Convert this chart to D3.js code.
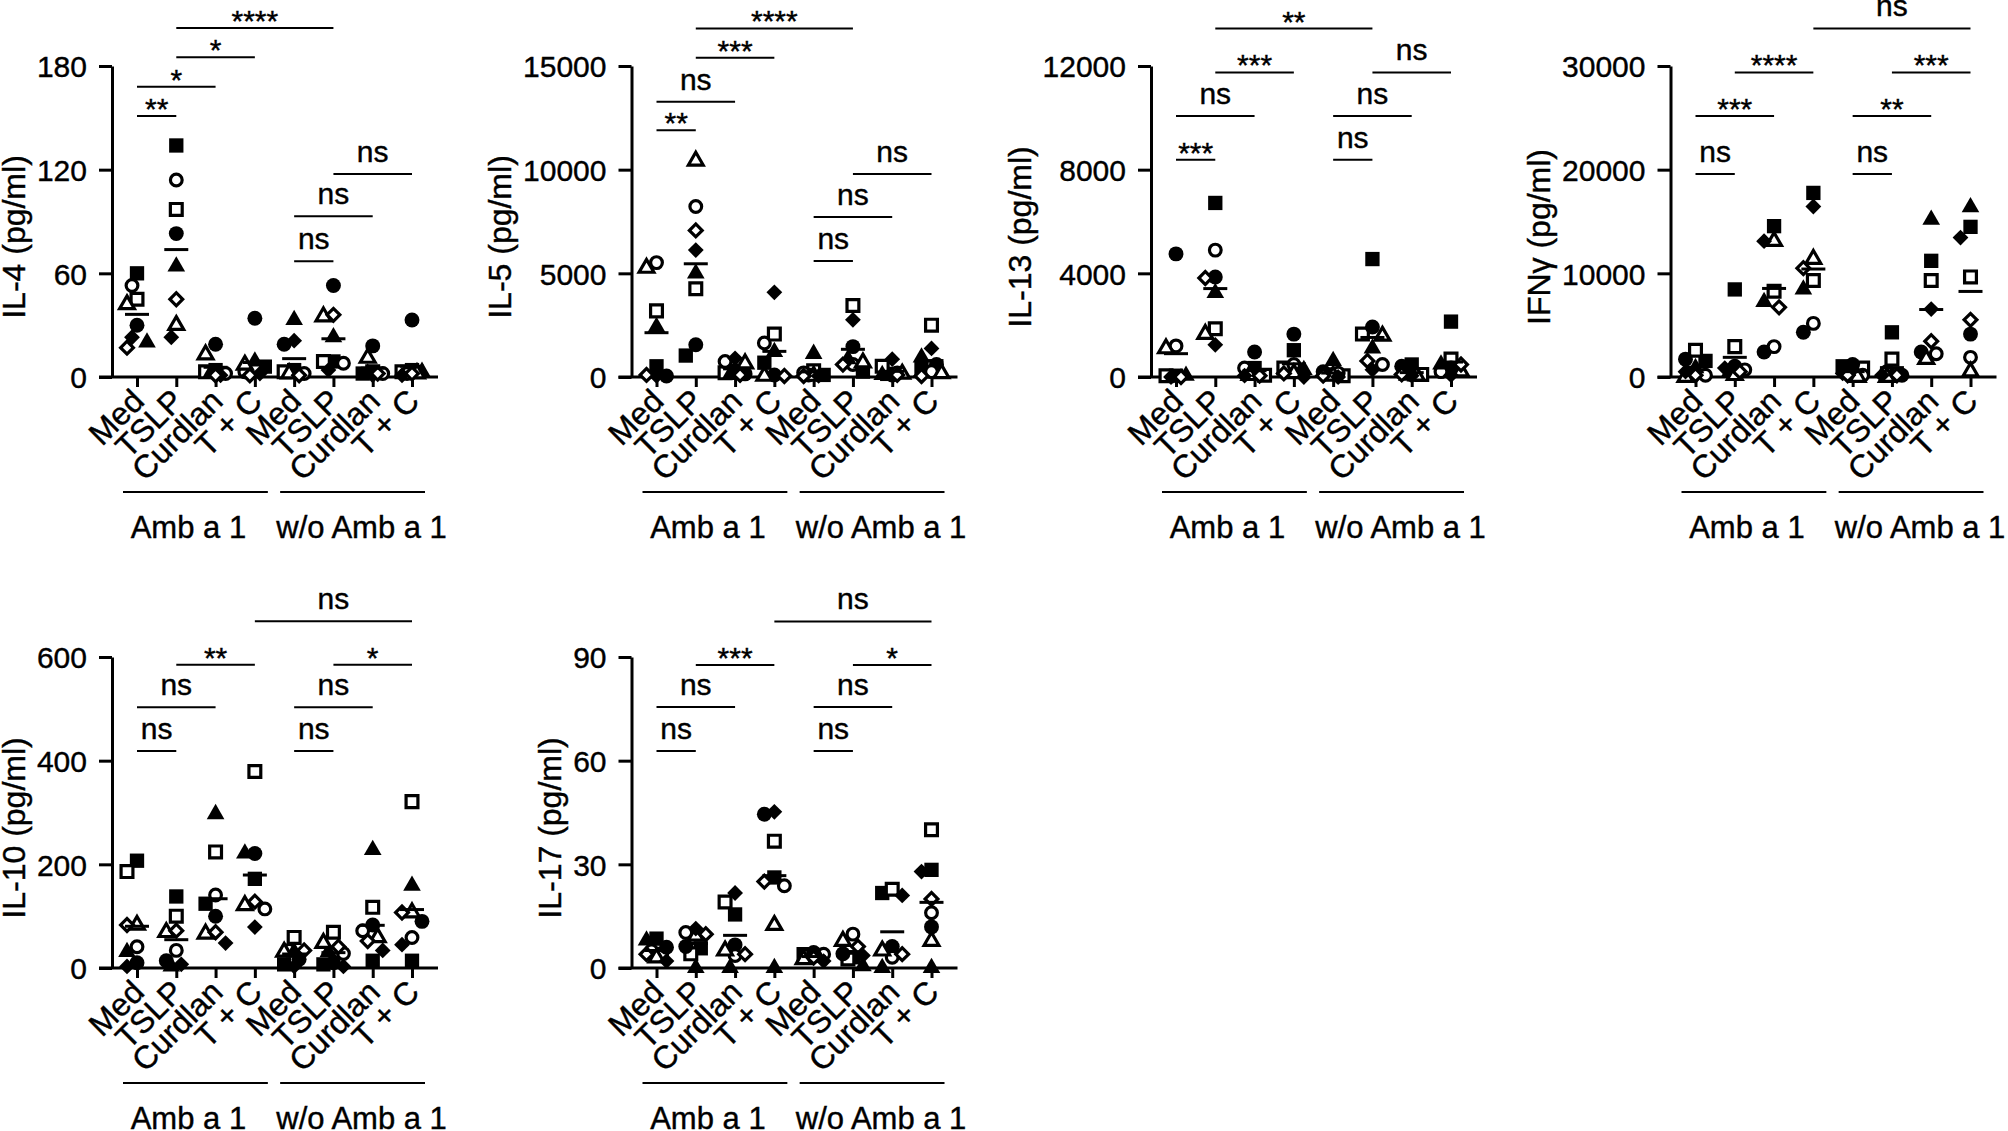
<!DOCTYPE html>
<html>
<head>
<meta charset="utf-8">
<script src="https://cdn.jsdelivr.net/npm/d3@7"></script>
<style>
  body { margin: 0; background: #fff; }
  text { font-family: "Liberation Sans", Arial, sans-serif; fill: #000; stroke: #000; stroke-width: 0.4px; }
</style>
</head>
<body>
<div id="chart"></div>
<script>
// categories on the x axis (two groups of four)
const categories = ['Med', 'TSLP', 'Curdlan', 'T + C', 'Med', 'TSLP', 'Curdlan', 'T + C'];
const groups = ['Amb a 1', 'w/o Amb a 1'];
// donor order: filled square, open square, filled circle, open circle,
// filled triangle, open triangle, filled diamond, open diamond
const donors = ['D1', 'D2', 'D3', 'D4', 'D5', 'D6', 'D7', 'D8'];

// values per category, one per donor (pg/ml)
const il4 = [
  [60, 45, 30, 53, 20, 42, 23, 17],
  [134, 97, 83, 114, 64, 30, 23, 45],
  [4, 3, 19, 2, 2, 13, 1, 1],
  [6, 5, 34, 3, 9, 7, 2, 1],
  [4, 3, 19, 2, 33, 2, 21, 1],
  [9, 9, 53, 8, 23, 35, 4, 36],
  [2, 3, 18, 2, 2, 11, 1, 2],
  [4, 3, 33, 2, 3, 2, 1, 2]
];
const il5 = [
  [517, 3190, 50, 5517, 2414, 5258, 50, 100],
  [1034, 4258, 1552, 8224, 5000, 10430, 6120, 7068],
  [300, 200, 150, 750, 100, 650, 900, 100],
  [690, 2069, 100, 1638, 1207, 50, 4086, 50],
  [100, 300, 100, 200, 1120, 50, 50, 50],
  [260, 3448, 1466, 603, 862, 690, 2758, 600],
  [150, 517, 100, 200, 100, 150, 862, 100],
  [431, 2500, 600, 259, 948, 172, 1380, 50]
];
const il13 = [
  [50, 50, 4750, 1200, 50, 1100, 0, 0],
  [6716, 1862, 3861, 4896, 3241, 1655, 1241, 3820],
  [345, 69, 965, 345, 50, 69, 50, 50],
  [1034, 345, 1655, 483, 276, 138, 0, 138],
  [100, 50, 200, 150, 620, 50, 0, 50],
  [4551, 1655, 1931, 483, 1103, 1586, 276, 620],
  [483, 100, 414, 100, 50, 50, 50, 100],
  [2137, 690, 345, 207, 483, 207, 69, 483]
];
const ifng = [
  [1552, 2586, 1724, 172, 862, 0, 517, 172],
  [8448, 2931, 1034, 690, 517, 172, 862, 517],
  [14551, 8276, 2414, 2931, 7241, 13103, 13103, 6724],
  [17758, 9310, 4310, 5172, 8448, 11379, 16448, 10500],
  [1034, 862, 1207, 172, 345, 0, 345, 172],
  [4310, 1724, 172, 517, 172, 0, 172, 172],
  [11207, 9310, 2414, 2241, 15172, 1724, 6552, 3448],
  [14483, 9655, 4138, 1896, 16379, 517, 13448, 5517]
];
const il10 = [
  [207, 186, 10, 41, 31, 83, 3, 83],
  [138, 100, 14, 34, 3, 69, 7, 72],
  [124, 224, 100, 141, 297, 66, 48, 69],
  [172, 379, 221, 114, 221, 121, 79, 128],
  [7, 59, 17, 34, 31, 31, 3, 34],
  [7, 69, 10, 28, 31, 48, 3, 41],
  [14, 117, 83, 72, 228, 59, 34, 52],
  [14, 321, 90, 59, 159, 107, 45, 107]
];
const il17 = [
  [8.5, 4, 6, 5, 8, 3, 2, 4],
  [5.7, 4.1, 6.2, 10.3, 0, 9.3, 11.4, 9.8],
  [15.5, 19.1, 6.7, 3.6, 0, 5, 21.7, 4],
  [26.2, 36.7, 44.5, 23.8, 0, 12.4, 45.2, 25],
  [4, 3.5, 4.5, 4, 3, 2.5, 2, 3],
  [3.1, 2.6, 4.1, 9.8, 0.5, 7.8, 3.6, 6.2],
  [21.7, 22.8, 6.2, 3.1, 0, 5, 21, 4],
  [28.4, 40, 11.9, 16, 0, 7.8, 27.9, 20]
];

// significance brackets: [from category, to category, label, height in data units]
const il4Stats = [[0, 1, '**', 151], [0, 2, '*', 168], [1, 3, '*', 185], [1, 5, '****', 202],
                  [4, 5, 'ns', 67], [4, 6, 'ns', 93], [5, 7, 'ns', 117.5]];
const il5Stats = [[0, 1, '**', 11900], [0, 2, 'ns', 13275], [1, 3, '***', 15400], [1, 5, '****', 16810],
                  [4, 5, 'ns', 5600], [4, 6, 'ns', 7720], [5, 7, 'ns', 9790]];
const il13Stats = [[0, 1, '***', 8384], [0, 2, 'ns', 10067], [1, 3, '***', 11750], [1, 5, '**', 13445],
                   [4, 5, 'ns', 8384], [4, 6, 'ns', 10067], [5, 7, 'ns', 11750]];
const ifngStats = [[0, 1, 'ns', 19586], [0, 2, '***', 25172], [1, 3, '****', 29379], [3, 7, 'ns', 33620],
                   [4, 5, 'ns', 19586], [4, 6, '**', 25172], [5, 7, '***', 29379]];
const il10Stats = [[0, 1, 'ns', 418.6], [0, 2, 'ns', 503], [1, 3, '**', 585], [3, 7, 'ns', 669],
                   [4, 5, 'ns', 418.6], [4, 6, 'ns', 503], [5, 7, '*', 585]];
const il17Stats = [[0, 1, 'ns', 62.8], [0, 2, 'ns', 75.5], [1, 3, '***', 87.7], [3, 7, 'ns', 100.3],
                   [4, 5, 'ns', 62.8], [4, 6, 'ns', 75.5], [5, 7, '*', 87.7]];

const panels = [
  {title: 'IL-4 (pg/ml)', ticks: [0, 60, 120, 180], values: il4, stats: il4Stats},
  {title: 'IL-5 (pg/ml)', ticks: [0, 5000, 10000, 15000], values: il5, stats: il5Stats},
  {title: 'IL-13 (pg/ml)', ticks: [0, 4000, 8000, 12000], values: il13, stats: il13Stats},
  {title: 'IFNγ (pg/ml)', ticks: [0, 10000, 20000, 30000], values: ifng, stats: ifngStats},
  {title: 'IL-10 (pg/ml)', ticks: [0, 200, 400, 600], values: il10, stats: il10Stats},
  {title: 'IL-17 (pg/ml)', ticks: [0, 30, 60, 90], values: il17, stats: il17Stats}
];

const plotH = 311;
const tickLen = 13;

const symbolOf = [
  {type: d3.symbolSquare, filled: true}, {type: d3.symbolSquare, filled: false},
  {type: d3.symbolCircle, filled: true}, {type: d3.symbolCircle, filled: false},
  {type: d3.symbolTriangle, filled: true}, {type: d3.symbolTriangle, filled: false},
  {type: 'diamond', filled: true}, {type: 'diamond', filled: false}
];

function markerPath(k) {
  const s = symbolOf[k];
  const open = !s.filled;
  if (s.type === 'diamond') return d3.symbol(d3.symbolSquare, open ? 82 : 125)();
  if (s.type === d3.symbolSquare) return d3.symbol(s.type, open ? 140 : 205)();
  if (s.type === d3.symbolCircle) return d3.symbol(s.type, open ? 108 : 175)();
  return d3.symbol(s.type, open ? 95 : 135)();
}

// spread overlapping points sideways, like a column scatter
function dodge(vals, y) {
  const order = d3.range(vals.length).sort((a, b) => vals[b] - vals[a]);
  const cands = [0, -5, 5, -10, 10];
  const placed = [];
  const off = [];
  order.forEach(j => {
    const py = y(vals[j]);
    let best = 0, bestD = -1;
    for (const c of cands) {
      const d = placed.length ? d3.min(placed, p => Math.hypot(p.x - c, p.y - py)) : Infinity;
      if (d >= 13) { best = c; bestD = d; break; }
      if (d > bestD) { bestD = d; best = c; }
    }
    off[j] = best;
    placed.push({x: best, y: py});
  });
  return off;
}

const svg = d3.select('#chart')
  .append('svg')
  .attr('width', 2008)
  .attr('height', 1131);

panels.forEach((p, i) => {
  const col = i % 4, row = Math.floor(i / 4);
  const g = svg.append('g')
    .attr('transform', 'translate(' + (112 + col * 519.5) + ',' + (66 + row * 591) + ')');

  const y = d3.scaleLinear().domain([0, d3.max(p.ticks)]).range([plotH, 0]);
  const x = d3.scalePoint().domain(d3.range(categories.length)).range([25, 300]);

  // y axis
  const yAxis = g.append('g')
    .call(d3.axisLeft(y).tickValues(p.ticks).tickFormat(d3.format('d'))
      .tickSize(tickLen).tickSizeOuter(0).tickPadding(12))
    .attr('font-family', null)
    .attr('font-size', 30);
  yAxis.select('.domain').attr('stroke-width', 3);
  yAxis.selectAll('.tick line').attr('stroke-width', 3);
  yAxis.selectAll('.tick text').attr('dy', '0.36em');

  const labelW = d3.max(yAxis.selectAll('.tick text').nodes(), n => n.getComputedTextLength());
  g.append('text')
    .attr('transform', 'translate(' + (-tickLen - 12 - labelW - 12) + ',' + (plotH - 140) + ') rotate(-90)')
    .attr('text-anchor', 'middle')
    .attr('font-size', 32)
    .text(p.title);

  // x axis
  const xAxis = g.append('g')
    .attr('transform', 'translate(0,' + plotH + ')')
    .call(d3.axisBottom(x).tickSize(10).tickSizeOuter(0).tickFormat(''));
  xAxis.select('.domain').remove();
  xAxis.selectAll('.tick line').attr('stroke-width', 3);
  xAxis.append('line')
    .attr('x1', -tickLen)
    .attr('x2', x.range()[1] + 26)
    .attr('stroke', '#000')
    .attr('stroke-width', 3);

  g.selectAll('.cat')
    .data(categories)
    .join('text')
      .attr('class', 'cat')
      .attr('transform', (d, k) => 'translate(' + (x(k) + 9) + ',' + (plotH + 26) + ') rotate(-45)')
      .attr('text-anchor', 'end')
      .attr('font-size', 32)
      .text(d => d);

  // group brackets under the category labels
  groups.forEach((name, k) => {
    const x1 = x(k * 4) - 14, x2 = x(k * 4 + 3) + 13;
    g.append('line')
      .attr('x1', x1).attr('x2', x2)
      .attr('y1', plotH + 115).attr('y2', plotH + 115)
      .attr('stroke', '#000')
      .attr('stroke-width', 2);
    g.append('text')
      .attr('x', (x1 + x2) / 2 + (k === 0 ? -7 : 9))
      .attr('y', plotH + 161)
      .attr('text-anchor', 'middle')
      .attr('font-size', 31)
      .text(name);
  });

  // points and mean lines
  p.values.forEach((vals, c) => {
    const off = dodge(vals, y);
    g.append('g')
      .selectAll('path')
      .data(vals)
      .join('path')
        .attr('d', (v, k) => markerPath(k))
        .attr('transform', (v, k) => 'translate(' + (x(c) + off[k]) + ',' + y(v) + ')' +
              (symbolOf[k].type === 'diamond' ? ' rotate(45)' : ''))
        .attr('fill', (v, k) => symbolOf[k].filled ? '#000' : '#fff')
        .attr('stroke', '#000')
        .attr('stroke-width', (v, k) => symbolOf[k].filled ? 0 : 3.2);

    const m = d3.mean(vals);
    g.append('line')
      .attr('x1', x(c) - 12).attr('x2', x(c) + 12)
      .attr('y1', y(m)).attr('y2', y(m))
      .attr('stroke', '#000')
      .attr('stroke-width', 3);
  });

  // significance brackets
  p.stats.forEach(([a, b, label, level]) => {
    const ly = y(level);
    g.append('line')
      .attr('x1', x(a)).attr('x2', x(b))
      .attr('y1', ly).attr('y2', ly)
      .attr('stroke', '#000')
      .attr('stroke-width', 2);
    g.append('text')
      .attr('x', (x(a) + x(b)) / 2)
      .attr('y', label === 'ns' ? ly - 12 : ly + 3)
      .attr('text-anchor', 'middle')
      .attr('font-size', 30)
      .text(label);
  });
});
</script>
</body>
</html>
